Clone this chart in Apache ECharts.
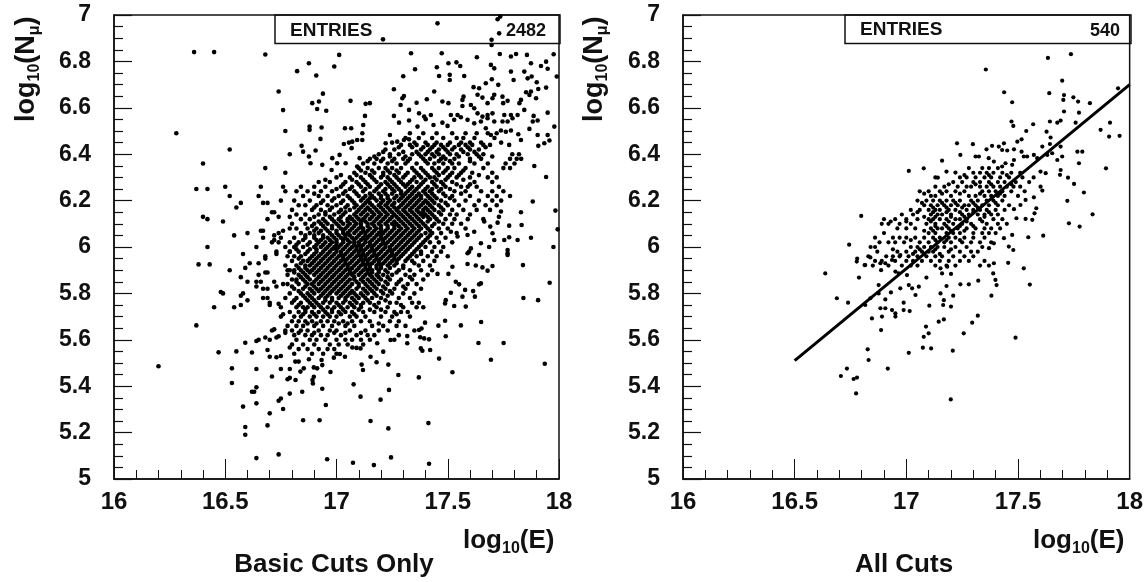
<!DOCTYPE html>
<html><head><meta charset="utf-8">
<script src="https://cdn.jsdelivr.net/npm/echarts@6/dist/echarts.min.js"></script>
<style>html,body{margin:0;padding:0;background:#fff}#c{width:1146px;height:582px}</style></head>
<body><div id="c"></div>
<script>
const xTickLabels=['16','16.5','17','17.5','18'];
const entriesBasic='2482', entriesAll='540';
const fitLine=[[16.5,5.51],[18,6.70]];
const basicScattered=[[16.36,6.84],[16.45,6.84],[16.68,6.83],[16.74,6.67],[16.76,6.59],[16.77,6.5],[16.28,6.49],[16.52,6.42],[16.79,6.4],[16.4,6.36],[16.68,6.34],[16.77,6.32],[16.37,6.25],[16.42,6.25],[16.5,6.26],[16.52,6.22],[16.66,6.26],[16.65,6.22],[16.67,6.19],[16.69,6.19],[16.76,6.26],[16.77,6.24],[16.75,6.2],[16.57,6.19],[16.55,6.17],[16.4,6.13],[16.42,6.12],[16.49,6.11],[16.71,6.15],[16.72,6.15],[16.69,6.12],[16.74,6.13],[16.79,6.13],[16.6,6.06],[16.54,6.05],[16.66,6.07],[16.67,6.07],[16.74,6.06],[16.76,6.07],[16.79,6.08],[16.72,6.05],[16.67,6.04],[16.75,6.04],[16.71,6.02],[16.72,6.03],[16.74,6.02],[16.64,6],[16.42,6],[16.73,5.98],[16.58,5.97],[16.68,5.96],[16.79,5.98],
[16.38,5.925],[16.43,5.925],[16.52,5.9],[16.59,5.91],[16.61,5.93],[16.65,5.93],[16.68,5.95],[16.73,5.97],[16.65,5.88],[16.68,5.89],[16.69,5.89],[16.57,5.87],[16.6,5.85],[16.64,5.85],[16.66,5.85],[16.72,5.85],[16.73,5.83],[16.76,5.84],[16.78,5.9],[16.48,5.806],[16.49,5.8],[16.58,5.8],[16.57,5.79],[16.64,5.83],[16.67,5.82],[16.69,5.82],[16.67,5.78],[16.69,5.78],[16.7,5.76],[16.7,5.75],[16.6,5.77],[16.57,5.75],[16.54,5.74],[16.45,5.74],[16.74,5.755],[16.75,5.74],[16.75,5.7],[16.76,5.71],[16.78,5.66],[16.37,5.662],[16.72,5.645],[16.71,5.64],[16.77,5.64],[16.77,5.63],[16.73,5.61],[16.74,5.615],[16.68,5.61],[16.7,5.6],[16.64,5.595],[16.65,5.6],[16.59,5.587],[16.79,5.567],[16.47,5.546],[16.55,5.55],[16.62,5.545],[16.69,5.556],[16.7,5.527],[16.73,5.525],[16.75,5.53],[16.53,5.477],[16.64,5.474],[16.75,5.474],[16.79,5.474],[16.2,5.486],[16.71,5.442],[16.78,5.43],[16.79,5.436],[16.53,5.414],[16.62,5.376],[16.63,5.376],[16.64,5.395],[16.79,5.368],[16.74,5.337],[16.75,5.347],[16.58,5.312],[16.64,5.326],[16.76,5.302],[16.7,5.283],[16.59,5.224],[16.59,5.191],[16.69,5.231],[16.64,5.09],[16.74,5.106],
[16.958,5.085],[17.074,5.07],[17.168,5.06],[17.245,5.093],[17.416,5.066],[16.85,5.253],[16.924,5.253],[17.153,5.25],[17.233,5.218],[17.413,5.241],[16.952,5.319],[16.846,5.376],[16.936,5.389],[17.108,5.355],[17.198,5.342],[17.236,5.384],[17.077,5.408],[16.894,5.412],[16.892,5.427],[16.898,5.441],[16.816,5.427],[17.278,5.448],[17.37,5.438],[17.521,5.46],[17.936,5.497],[17.694,5.514],[17.461,5.519],[17.233,5.493],[17.119,5.47],[17.113,5.493],[17.18,5.503],[17.153,5.527],[16.973,5.461],[16.936,5.491],[16.913,5.477],[16.898,5.481],[16.853,5.477],[16.838,5.463],[16.876,5.516],[16.933,5.513],[16.815,5.506],[16.83,5.506],[17.21,5.549],[17.038,5.527],[17.015,5.539],[16.988,5.523],[17.071,5.567],[17.09,5.565],[17.108,5.563],[17.183,5.585],[17.379,5.563],[17.386,5.553],[17.421,5.556],[17.318,5.585],[17.318,5.616],[17.376,5.611],[17.394,5.606],[17.416,5.602],[17.243,5.599],[17.491,5.615],[17.638,5.586],[17.751,5.586],[17.559,5.662],[17.65,5.677],[17.488,5.682],[17.458,5.661],[17.398,5.674],[17.371,5.642],[17.382,5.649],[17.84,5.78],[17.906,5.771],[17.958,5.846],[17.838,5.922],[17.641,5.839],[17.649,5.843],[17.614,5.81],[17.622,5.786],[17.578,5.815],[17.566,5.786],[17.514,5.803],[17.491,5.771],[17.488,5.757],[17.529,5.746],[17.581,5.743],[17.536,5.85],[17.551,5.839],[17.454,5.884],[17.503,5.884],[17.521,5.915],[17.589,5.927],[17.626,5.92],[17.656,5.912],[17.679,5.898],[17.701,5.918],[17.596,5.98],[17.641,5.965],[17.769,5.973],
[17.454,6.964],[17.736,6.993],[17.724,6.982],[17.731,6.921],[17.209,6.895],[17.697,6.893],[17.697,6.871],[17.012,6.828],[17.335,6.835],[17.473,6.835],[17.631,6.818],[17.734,6.832],[17.784,6.821],[17.807,6.832],[17.856,6.828],[17.976,6.831],[16.876,6.792],[16.99,6.778],[16.823,6.758],[16.909,6.739],[17.353,6.766],[17.3,6.736],[17.451,6.775],[17.503,6.792],[17.539,6.796],[17.556,6.78],[17.461,6.737],[17.509,6.742],[17.509,6.72],[17.574,6.737],[17.694,6.785],[17.709,6.77],[17.698,6.723],[17.671,6.706],[17.784,6.756],[17.796,6.72],[17.844,6.756],[17.859,6.727],[17.877,6.735],[17.874,6.792],[17.919,6.78],[17.942,6.799],[17.949,6.768],[17.99,6.735],[17.9,6.71],[17.727,6.699],[17.258,6.68],[17.439,6.67],[17.616,6.689],[17.641,6.684],[17.634,6.656],[17.942,6.687],[17.907,6.681],[17.874,6.67],[17.852,6.667],[16.939,6.661],[17.303,6.651],[17.296,6.641],[17.571,6.648],[17.566,6.634],[17.656,6.644],[17.679,6.62],[17.709,6.656],[17.701,6.641],[17.746,6.648],[17.769,6.63],[17.749,6.62],[17.829,6.634],[17.822,6.62],[17.867,6.655],[17.897,6.641],[17.063,6.63],[17.131,6.617],[17.15,6.62],[16.891,6.62],[16.921,6.627],[16.913,6.595],[16.954,6.587],[17.288,6.612],[17.36,6.622],[17.406,6.637],[17.476,6.627],[17.503,6.62],[17.326,6.591],[17.566,6.608],[17.604,6.612],[17.619,6.598],[17.634,6.576],[17.656,6.562],[17.679,6.569],[17.701,6.576],[17.844,6.591],[17.949,6.579],[17.886,6.565],[17.904,6.545],[17.882,6.541],[17.867,6.509],[17.979,6.519],[17.128,6.565],[17.258,6.565],[17.281,6.536],[17.326,6.545],[17.364,6.519],[17.371,6.576],[17.394,6.562],[17.424,6.569],[17.401,6.551],[17.436,6.526],[17.476,6.536],[17.499,6.522],[17.529,6.548],[17.559,6.559],[17.589,6.548],[17.514,6.569],[17.544,6.569],[17.619,6.533],[17.649,6.541],[17.679,6.555],[17.754,6.569],[17.784,6.569],[17.769,6.541],[17.791,6.555],[17.814,6.569],[17.709,6.541],[17.746,6.541],[17.739,6.502],[17.761,6.497],[17.784,6.502],[17.671,6.512],[17.694,6.483],[16.879,6.519],[16.879,6.505],[16.933,6.515],[17.038,6.512],[17.066,6.512],[17.12,6.526],[17.116,6.49],[16.928,6.466],[17.24,6.483],[17.071,6.454],[17.093,6.461],[17.116,6.461],[17.033,6.444],[17.056,6.45],[17.068,6.426],[17.904,6.483],[17.949,6.483],[17.817,6.486],[17.829,6.461],[17.907,6.436],[17.934,6.447],[17.957,6.459],[17.776,6.44],[17.273,6.454],[17.303,6.461],[17.326,6.464],[17.221,6.447],[16.843,6.436],[16.85,6.411],[16.906,6.416],[16.876,6.39],[16.883,6.361],[17.014,6.397],[16.981,6.383],[17.003,6.361],[17.104,6.383],[16.936,6.354],[16.978,6.332],[17.041,6.361],[17.093,6.347],[17.889,6.349],[17.942,6.302],[17.882,6.196],[17.829,6.15],[17.984,6.157],[17.739,6.153],[17.73,6.13],[17.994,6.076],[17.832,6.095],[17.776,6.092],[17.724,6.105],[17.691,6.088],[17.664,6.11],[17.619,6.066],[17.589,6.052],[17.544,6.045],[17.514,6.066],[17.701,6.059],[17.754,6.03],[17.776,6.042],[17.709,6.03],[17.814,6.03],[17.874,6.04],[17.975,6],[17.769,5.987],[17.769,5.966],[17.686,6],[17.649,6.016],[17.604,5.994],[17.589,5.973]];
const basicDenseY=[6.44,6.42,6.40,6.38,6.36,6.34,6.32,6.30,6.28,6.26,6.24,6.22,6.20,6.18,6.16,6.14,6.12,6.10,6.08,6.06,6.04,6.02,6.00,5.98,5.96,5.94,5.92,5.90,5.88,5.86,5.84,5.82,5.80,5.78,5.76,5.74,5.72,5.70,5.68,5.66,5.64,5.62,5.60,5.58,5.56,5.54];
const basicDenseX=[
[17.29,17.33,17.36,17.41,17.44,17.47,17.50,17.55,17.58,17.61,17.66,17.69],
[17.22,17.26,17.38,17.42,17.46,17.49,17.52,17.56,17.60,17.64],
[17.19,17.24,17.28,17.34,17.37,17.40,17.43,17.46,17.51,17.54,17.59,17.63,17.66,17.79,17.82],
[17.15,17.18,17.21,17.26,17.30,17.33,17.39,17.42,17.47,17.49,17.53,17.60,17.65,17.78,17.81,17.83],
[17.12,17.17,17.23,17.27,17.31,17.36,17.41,17.44,17.48,17.52,17.55,17.62,17.68,17.76,17.80],
[17.10,17.14,17.19,17.22,17.25,17.29,17.34,17.38,17.43,17.46,17.50,17.53,17.58,17.66,17.75,17.78],
[17.08,17.13,17.17,17.21,17.24,17.28,17.32,17.36,17.40,17.45,17.48,17.52,17.56,17.61,17.70],
[17.00,17.06,17.11,17.16,17.20,17.23,17.27,17.30,17.35,17.38,17.42,17.44,17.50,17.54,17.60,17.68,17.72],
[16.92,16.97,17.04,17.09,17.13,17.18,17.22,17.25,17.29,17.33,17.36,17.39,17.43,17.47,17.52,17.62,17.70],
[16.84,16.90,16.95,17.02,17.07,17.11,17.15,17.19,17.24,17.27,17.31,17.34,17.37,17.41,17.45,17.49,17.56,17.59,17.63,17.73],
[16.82,16.87,16.93,16.98,17.04,17.08,17.12,17.17,17.21,17.26,17.29,17.32,17.35,17.39,17.42,17.46,17.53,17.58,17.65,17.70,17.75],
[16.85,16.92,16.96,17.01,17.05,17.10,17.13,17.16,17.20,17.23,17.27,17.30,17.33,17.36,17.38,17.41,17.44,17.49,17.52,17.60,17.68,17.72,17.78],
[16.81,16.88,16.94,16.98,17.03,17.07,17.11,17.14,17.18,17.21,17.24,17.28,17.31,17.34,17.37,17.40,17.43,17.47,17.53,17.58,17.64,17.70,17.74],
[16.83,16.86,16.91,16.96,17.00,17.05,17.09,17.12,17.16,17.19,17.22,17.25,17.29,17.32,17.35,17.38,17.42,17.46,17.50,17.55,17.62,17.67,17.72],
[16.80,16.89,16.93,16.97,17.02,17.06,17.10,17.13,17.15,17.18,17.21,17.24,17.27,17.30,17.33,17.36,17.39,17.41,17.44,17.48,17.52,17.57,17.63,17.69],
[16.82,16.86,16.92,16.95,16.99,17.03,17.08,17.11,17.14,17.17,17.20,17.23,17.26,17.29,17.32,17.35,17.38,17.40,17.43,17.47,17.51,17.54,17.60],
[16.84,16.88,16.94,16.98,17.01,17.05,17.07,17.10,17.12,17.15,17.18,17.21,17.24,17.28,17.31,17.34,17.37,17.42,17.45,17.49,17.53,17.59,17.66],
[16.80,16.86,16.90,16.93,16.96,17.00,17.03,17.06,17.09,17.11,17.14,17.16,17.19,17.22,17.25,17.27,17.30,17.33,17.36,17.39,17.44,17.48,17.52,17.56],
[16.82,16.87,16.91,16.95,16.98,17.02,17.04,17.07,17.10,17.12,17.15,17.18,17.20,17.23,17.26,17.29,17.32,17.35,17.38,17.41,17.46,17.50,17.58],
[16.84,16.88,16.92,16.97,17.00,17.03,17.05,17.08,17.11,17.13,17.16,17.19,17.21,17.24,17.27,17.30,17.33,17.36,17.40,17.43,17.47,17.54],
[16.81,16.86,16.90,16.94,16.96,16.99,17.02,17.04,17.07,17.09,17.12,17.14,17.17,17.20,17.22,17.25,17.28,17.31,17.34,17.37,17.41,17.45,17.49],
[16.79,16.83,16.88,16.92,16.95,16.98,17.00,17.03,17.06,17.08,17.10,17.13,17.15,17.18,17.21,17.23,17.26,17.29,17.32,17.35,17.39,17.42,17.46,17.52],
[16.77,16.81,16.85,16.90,16.93,16.96,16.99,17.01,17.04,17.07,17.09,17.11,17.14,17.16,17.19,17.22,17.24,17.27,17.30,17.33,17.37,17.40,17.44,17.48],
[16.79,16.83,16.87,16.91,16.94,16.97,17.00,17.02,17.05,17.08,17.10,17.12,17.15,17.17,17.20,17.23,17.25,17.28,17.31,17.35,17.38,17.43,17.47],
[16.78,16.81,16.84,16.89,16.92,16.95,16.98,17.01,17.03,17.06,17.09,17.11,17.13,17.16,17.18,17.21,17.24,17.26,17.29,17.33,17.36,17.41,17.45,17.50],
[16.80,16.85,16.87,16.90,16.93,16.96,16.99,17.02,17.04,17.07,17.10,17.12,17.14,17.17,17.19,17.22,17.25,17.27,17.31,17.34,17.39,17.44],
[16.77,16.82,16.86,16.88,16.91,16.94,16.97,17.00,17.03,17.05,17.08,17.11,17.13,17.15,17.18,17.20,17.23,17.26,17.30,17.37,17.42],
[16.79,16.81,16.84,16.87,16.89,16.92,16.95,16.98,17.01,17.04,17.06,17.09,17.12,17.14,17.16,17.19,17.22,17.28,17.33,17.38,17.43],
[16.78,16.83,16.86,16.90,16.93,16.96,16.99,17.02,17.05,17.07,17.10,17.13,17.15,17.18,17.21,17.25,17.31,17.35,17.41],
[16.80,16.82,16.85,16.88,16.91,16.94,16.97,17.00,17.03,17.06,17.08,17.11,17.14,17.17,17.20,17.24,17.29,17.34,17.39],
[16.78,16.83,16.87,16.89,16.92,16.95,16.98,17.01,17.04,17.07,17.10,17.13,17.16,17.19,17.23,17.27,17.32,17.36],
[16.81,16.85,16.88,16.91,16.93,16.96,16.99,17.02,17.05,17.09,17.12,17.15,17.18,17.22,17.26,17.31,17.38],
[16.79,16.84,16.87,16.90,16.94,16.97,17.00,17.03,17.06,17.08,17.11,17.14,17.17,17.21,17.25,17.30,17.35],
[16.77,16.82,16.86,16.89,16.92,16.95,16.98,17.01,17.04,17.07,17.10,17.13,17.16,17.20,17.28,17.33],
[16.80,16.84,16.88,16.91,16.94,16.97,17.00,17.03,17.06,17.09,17.12,17.15,17.19,17.24,17.27,17.34,17.37],
[16.82,16.85,16.87,16.90,16.93,16.96,16.99,17.02,17.05,17.08,17.11,17.18,17.23,17.30,17.36,17.39],
[16.79,16.83,16.86,16.89,16.92,16.95,16.98,17.01,17.04,17.07,17.12,17.17,17.22,17.26,17.29,17.32],
[16.81,16.84,16.88,16.91,16.94,16.97,17.00,17.06,17.09,17.13,17.20,17.25,17.33],
[16.80,16.83,16.86,16.89,16.93,16.96,16.99,17.03,17.07,17.11,17.15,17.24,17.28],
[16.82,16.85,16.90,16.94,16.98,17.04,17.08,17.16,17.21,17.27,17.31],
[16.80,16.84,16.87,16.92,16.97,17.00,17.06,17.13,17.19,17.23,17.35],
[16.81,16.86,16.89,16.93,16.96,17.02,17.09,17.14,17.17,17.28],
[16.82,16.88,16.91,16.95,17.00,17.04,17.07,17.11,17.15,17.26],
[16.80,16.85,16.90,16.97,17.01,17.05,17.12],
[16.83,16.87,16.92,16.96,16.99],
[16.81,16.89,16.94,17.00]];
const basicFillY=[6.49,6.47,6.45,6.43,6.41,6.39,6.37,6.33,6.31,6.29,6.27,6.25,6.23,6.21,6.19,6.17,6.15,6.13,6.11,6.09,6.07,6.05,6.03,6.01,5.99,5.97,5.95,5.93,5.91,5.89,5.87,5.85,5.83,5.81,5.79,5.77,5.75,5.73,5.71,5.67,5.63];
const basicFillX=[
[17.33,17.39,17.45,17.52,17.58,17.63,17.68,17.72],
[17.31,17.37,17.43,17.48,17.54,17.57,17.62,17.71],
[17.25,17.35,17.40,17.45,17.51,17.56,17.60,17.65,17.74],
[17.28,17.34,17.39,17.43,17.48,17.53,17.59,17.67],
[17.21,17.30,17.36,17.41,17.45,17.50,17.57,17.62],
[17.17,17.24,17.31,17.38,17.44,17.48,17.55,17.64,17.70],
[17.14,17.20,17.25,17.32,17.40,17.46,17.51,17.60],
[17.11,17.16,17.23,17.27,17.35,17.39,17.44,17.49,17.57],
[17.02,17.09,17.15,17.21,17.26,17.31,17.37,17.41,17.46,17.51,17.55,17.64],
[16.95,17.07,17.12,17.17,17.24,17.28,17.34,17.40,17.45,17.49,17.57],
[17.03,17.10,17.14,17.20,17.23,17.26,17.30,17.32,17.38,17.44,17.48,17.54,17.60],
[17.00,17.06,17.13,17.18,17.22,17.25,17.28,17.33,17.36,17.40,17.43,17.47,17.51],
[16.90,17.03,17.09,17.15,17.19,17.22,17.25,17.29,17.31,17.34,17.37,17.40,17.43,17.48,17.56],
[16.99,17.06,17.12,17.15,17.17,17.20,17.23,17.26,17.29,17.32,17.35,17.38,17.42,17.45,17.51],
[16.93,17.02,17.08,17.13,17.15,17.20,17.23,17.26,17.30,17.33,17.36,17.39,17.41,17.44,17.49],
[16.90,16.98,17.04,17.08,17.11,17.14,17.17,17.20,17.23,17.26,17.28,17.31,17.34,17.37,17.40,17.43,17.47],
[16.95,17.01,17.04,17.09,17.12,17.16,17.19,17.22,17.25,17.28,17.31,17.34,17.37,17.39,17.42,17.46],
[16.90,16.97,17.02,17.06,17.09,17.13,17.16,17.19,17.22,17.25,17.27,17.30,17.33,17.36,17.39,17.41,17.44],
[16.92,16.95,16.99,17.02,17.05,17.08,17.11,17.13,17.17,17.20,17.23,17.26,17.29,17.32,17.35,17.38,17.41,17.46],
[16.89,16.94,16.98,17.01,17.05,17.08,17.11,17.14,17.17,17.20,17.23,17.26,17.28,17.31,17.34,17.37,17.40,17.43],
[16.90,16.93,16.96,17.00,17.03,17.06,17.09,17.12,17.14,17.17,17.20,17.22,17.25,17.28,17.31,17.34,17.37,17.42],
[16.86,16.90,16.94,16.98,17.01,17.04,17.06,17.10,17.13,17.15,17.18,17.20,17.23,17.26,17.29,17.32,17.35,17.38,17.42],
[16.85,16.91,16.93,16.97,17.00,17.03,17.05,17.08,17.11,17.13,17.16,17.19,17.21,17.24,17.27,17.30,17.33,17.36,17.40],
[16.82,16.87,16.91,16.94,16.97,17.00,17.02,17.05,17.08,17.10,17.12,17.15,17.17,17.20,17.22,17.25,17.28,17.31,17.34,17.38],
[16.82,16.88,16.91,16.95,16.98,17.00,17.03,17.06,17.09,17.11,17.13,17.16,17.18,17.21,17.24,17.26,17.29,17.32,17.36],
[16.86,16.90,16.93,16.96,16.99,17.02,17.04,17.07,17.10,17.12,17.14,17.17,17.19,17.22,17.25,17.27,17.30,17.34,17.38],
[16.83,16.88,16.91,16.94,16.97,17.00,17.03,17.05,17.08,17.11,17.13,17.15,17.18,17.20,17.23,17.26,17.28,17.32],
[16.84,16.89,16.92,16.95,16.98,17.01,17.04,17.06,17.09,17.12,17.14,17.16,17.19,17.21,17.24,17.27,17.35],
[16.83,16.86,16.90,16.93,16.96,16.99,17.02,17.05,17.07,17.10,17.13,17.15,17.18,17.20,17.24,17.30],
[16.81,16.85,16.88,16.91,16.94,16.97,17.00,17.03,17.06,17.08,17.11,17.14,17.16,17.19,17.23,17.27],
[16.84,16.87,16.92,16.95,16.98,17.01,17.04,17.08,17.12,17.16,17.19,17.23,17.33],
[16.82,16.86,16.90,16.93,16.96,16.99,17.02,17.05,17.09,17.12,17.15,17.18,17.22,17.28],
[16.80,16.86,16.90,16.94,16.97,17.00,17.03,17.06,17.10,17.14,17.17,17.21,17.30],
[16.83,16.89,16.92,16.95,16.98,17.01,17.04,17.07,17.13,17.16,17.20,17.24],
[16.85,16.88,16.93,16.96,17.02,17.05,17.09,17.12,17.18,17.23],
[16.81,16.87,16.90,16.95,16.98,17.04,17.08,17.14,17.22],
[16.83,16.89,16.92,17.01,17.07,17.11,17.17,17.29],
[16.86,16.94,16.98,17.03,17.10,17.15,17.20],
[16.85,16.90,16.96,17.02,17.08,17.27],
[16.87,16.91,17.01,17.05,17.19],
[16.83,16.90,16.99,17.04,17.11]];
const allScattered=[[17.737,6.831],[17.634,6.815],[17.356,6.765],[17.698,6.717],[17.948,6.684],[17.64,6.663],[17.438,6.667],[17.706,6.655],[17.703,6.634],[17.748,6.645],[17.769,6.627],[17.822,6.62],[17.474,6.624],[17.706,6.584],[17.773,6.579],[17.471,6.541],[17.479,6.522],[17.568,6.529],[17.537,6.5],[17.643,6.541],[17.676,6.536],[17.691,6.545],[17.758,6.536],[17.628,6.497],[17.912,6.536],[17.87,6.505],[17.908,6.476],[17.955,6.479],[17.646,6.472],[17.516,6.464],[17.497,6.454],[17.227,6.447],[17.298,6.443],[17.414,6.433],[17.437,6.447],[17.429,6.418],[17.452,6.416],[17.384,6.436],[17.359,6.421],[17.482,6.421],[17.609,6.433],[17.643,6.444],[17.691,6.433],[17.242,6.397],[17.31,6.39],[17.325,6.39],[17.16,6.372],[17.369,6.383],[17.392,6.368],[17.516,6.411],[17.526,6.39],[17.541,6.39],[17.571,6.397],[17.586,6.383],[17.482,6.375],[17.444,6.361],[17.429,6.347],[17.474,6.354],[17.631,6.397],[17.653,6.404],[17.676,6.375],[17.698,6.39],[17.766,6.411],[17.788,6.411],[17.773,6.361],[17.894,6.339],[17.011,6.328],[17.078,6.339],[17.18,6.325],[17.22,6.321],[17.141,6.299],[17.601,6.325],[17.624,6.318],[17.691,6.332],[17.688,6.311],[17.724,6.299],[17.751,6.272],[17.795,6.235],[17.721,6.199],[17.834,6.141],[17.728,6.102],[17.776,6.088],[17.601,6.26],[17.609,6.243],[17.571,6.214],[17.534,6.203],[17.511,6.181],[17.482,6.163],[17.582,6.167],[17.574,6.145],[17.564,6.117],[17.534,6.121],[17.493,6.124],[17.613,6.049],[17.546,6.042],[17.474,6.052],[17.437,6.038],[17.459,6.002],[17.479,5.987],[17.392,6.016],[17.37,5.995],[16.798,6.134],[16.744,6.01],[16.78,5.95],
[16.637,5.886],[16.778,5.937],[16.813,5.922],[16.788,5.868],[16.689,5.779],[16.739,5.76],[16.734,5.476],[16.707,5.444],[16.764,5.431],[16.779,5.437],[16.775,5.369],[17.199,5.343],[17.489,5.609],[16.917,5.476],[17.011,5.544],[17.074,5.566],[17.111,5.563],[17.208,5.553],[16.827,5.559],[16.831,5.513],[16.887,5.642],[17.078,5.613],[17.1,5.628],[17.088,5.657],[17.257,5.628],[17.295,5.674],[17.32,5.704],[17.145,5.678],[17.168,5.688],[16.846,5.692],[16.891,5.7],[17.553,5.838],[17.381,5.79],[17.399,5.858],[17.404,5.836],[17.389,5.886],[17.322,5.855],[17.242,5.839],[17.28,5.839],[17.526,5.908],[17.456,5.932],[17.392,5.93],[17.153,5.8],[17.21,5.79],[17.18,5.832],[17.168,5.771],[17.165,5.75],[17.2,5.743],[17.103,5.747],[16.884,5.736],[16.906,5.736],[16.936,5.728],[16.951,5.714],[16.951,5.7],[16.988,5.76],[16.988,5.728],[17.015,5.724],[17.026,5.822],[17.041,5.793],[17.056,5.829],[16.973,5.822],[16.931,5.804],[17.09,5.868],[17.011,5.836],[16.906,5.774],[16.876,5.8],[16.876,5.836],[16.839,5.779],[16.816,5.75],[16.816,5.922],[16.884,5.93],[16.906,5.93],[16.887,5.9],[16.839,5.955],[16.936,5.944],[16.973,5.965],[16.966,5.886],[16.951,5.894],[17.003,5.879],[17.153,5.908],[17.183,5.915],[17.16,5.886],[17.2,5.884]];
const allDenseY=[6.34,6.32,6.30,6.28,6.26,6.24,6.22,6.20,6.18,6.16,6.14,6.12,6.10,6.08,6.06,6.04,6.02,6.00,5.98,5.96,5.94,5.92];
const allDenseX=[
[17.28,17.34,17.37,17.41],
[17.30,17.33,17.36,17.39,17.43,17.47,17.51],
[17.13,17.24,17.27,17.31,17.35,17.38,17.42,17.46,17.52,17.57],
[17.21,17.25,17.30,17.33,17.37,17.41,17.44,17.49,17.55],
[17.13,17.17,17.23,17.27,17.29,17.33,17.36,17.39,17.42,17.45,17.48,17.51],
[17.06,17.10,17.15,17.18,17.22,17.26,17.34,17.37,17.40,17.43,17.47,17.53],
[17.11,17.13,17.20,17.28,17.31,17.35,17.38,17.41,17.44,17.50],
[17.05,17.09,17.12,17.15,17.18,17.21,17.24,17.29,17.32,17.36,17.39,17.43],
[17.08,17.11,17.14,17.17,17.20,17.23,17.26,17.28,17.31,17.34,17.37,17.41,17.46],
[17.02,17.06,17.10,17.13,17.15,17.19,17.22,17.27,17.30,17.33,17.36,17.40,17.44],
[16.98,17.03,17.11,17.14,17.16,17.20,17.25,17.28,17.32,17.35,17.38,17.41],
[16.90,16.95,17.00,17.05,17.10,17.12,17.15,17.18,17.22,17.24,17.27,17.33,17.39,17.43],
[16.89,16.92,16.97,17.02,17.09,17.13,17.17,17.21,17.25,17.29,17.36,17.41,17.45],
[16.96,17.00,17.04,17.11,17.14,17.16,17.19,17.23,17.27,17.31,17.35,17.38,17.42],
[16.90,17.10,17.13,17.18,17.21,17.24,17.30,17.34,17.37,17.40],
[16.86,16.94,16.97,17.00,17.04,17.08,17.12,17.15,17.19,17.22,17.26,17.30,17.35],
[16.88,16.92,16.95,16.99,17.06,17.10,17.14,17.17,17.20,17.25,17.29,17.33,17.38],
[16.84,16.86,17.02,17.05,17.08,17.11,17.14,17.17,17.22,17.27,17.34],
[16.87,16.96,17.00,17.04,17.07,17.10,17.12,17.19,17.24,17.29,17.32],
[16.83,16.91,16.94,16.97,17.01,17.05,17.09,17.13,17.16,17.21,17.26,17.30],
[16.86,16.89,16.95,17.00,17.03,17.07,17.11,17.15,17.19,17.24,17.28,17.35],
[16.85,16.92,16.98,17.02,17.05,17.13,17.18,17.22,17.33,17.37]];
const allFillY=[6.31,6.27,6.23,6.19,6.17,6.15,6.13,6.11,6.09,6.07,6.03,5.99,5.97];
const allFillX=[
[17.26,17.37,17.45],
[17.19,17.31,17.38,17.47],
[17.08,17.16,17.24,17.33,17.42],
[17.07,17.16,17.22,17.30,17.40],
[17.12,17.18,17.25,17.32],
[17.05,17.12,17.18,17.24,17.30,17.37],
[17.08,17.13,17.20,17.26,17.35],
[16.93,17.00,17.11,17.19,17.27,17.34],
[17.13,17.18,17.24,17.30],
[17.08,17.12,17.20,17.26],
[17.02,17.13,17.18,17.24],
[16.94,17.06,17.13,17.20],
[17.03,17.08,17.15]];

function rowsToPoints(ys,xs){const out=[];ys.forEach((y,i)=>xs[i].forEach(x=>out.push([x,y])));return out;}
const FONT='"Liberation Sans",Arial,sans-serif';
function xA(gi){return {type:'value',gridIndex:gi,min:16,max:18,interval:0.5,
 axisLine:{show:true,onZero:false,lineStyle:{color:'#111',width:1.5}},
 axisTick:{show:true,inside:true,length:20,lineStyle:{color:'#111',width:1}},
 minorTick:{show:true,splitNumber:5,length:9,lineStyle:{color:'#111',width:1}},
 splitLine:{show:false},minorSplitLine:{show:false},
 axisLabel:{margin:11,color:'#111',fontFamily:FONT,fontWeight:'bold',fontSize:24,hideOverlap:false,showMinLabel:true,showMaxLabel:true,
 formatter:v=>xTickLabels[Math.round((v-16)/0.5)]}};}
function yA(gi){return {type:'value',gridIndex:gi,min:5,max:7,interval:0.2,
 axisLine:{show:true,onZero:false,lineStyle:{color:'#111',width:1.5}},
 axisTick:{show:true,inside:true,length:18,lineStyle:{color:'#111',width:1.2}},
 minorTick:{show:true,splitNumber:4,length:9,lineStyle:{color:'#111',width:1.2}},
 splitLine:{show:false},minorSplitLine:{show:false},
 axisLabel:{margin:23,color:'#111',fontFamily:FONT,fontWeight:'bold',fontSize:23,hideOverlap:false,showMinLabel:true,showMaxLabel:true,
 formatter:v=>String(Math.round(v*10)/10)}};}
const richY={b:{fontFamily:FONT,fontWeight:'bold',fontSize:27,fill:'#111',lineHeight:32},s:{fontFamily:FONT,fontWeight:'bold',fontSize:16,fill:'#111',verticalAlign:'bottom',lineHeight:26}};
const richX={b:{fontFamily:FONT,fontWeight:'bold',fontSize:26,fill:'#111',lineHeight:32},s:{fontFamily:FONT,fontWeight:'bold',fontSize:16,fill:'#111',verticalAlign:'bottom',lineHeight:26}};
function tx(x,y,text,size,align){return {type:'text',x,y,z:20,style:{text,fontFamily:FONT,fontWeight:'bold',fontSize:size,fill:'#111',align:align||'left',verticalAlign:'middle'}};}
function box(x,y,w,h){return {type:'rect',x,y,z:5,shape:{width:w,height:h},style:{fill:'none',stroke:'#111',lineWidth:1.5}};}
function rot(x,y){return {type:'text',x,y,rotation:Math.PI/2,z:20,style:{text:'{b|log}{s|10}{b|(N}{s|μ}{b|)}',rich:richY,align:'left',verticalAlign:'middle'}};}
function logE(x,y){return {type:'text',x,y,z:20,style:{text:'{b|log}{s|10}{b|(E)}',rich:richX,align:'left',verticalAlign:'middle'}};}
const chart=echarts.init(document.getElementById('c'),null,{renderer:'canvas'});
chart.setOption({animation:false,backgroundColor:'#fff',
 grid:[{left:114,top:15,width:445,height:464,show:true,borderColor:'#111',borderWidth:1.5,backgroundColor:'transparent'},
       {left:683,top:15,width:447,height:464,show:true,borderColor:'#111',borderWidth:1.5,backgroundColor:'transparent'}],
 xAxis:[xA(0),xA(1)],yAxis:[yA(0),yA(1)],
 series:[
  {type:'scatter',xAxisIndex:0,yAxisIndex:0,symbolSize:4.6,itemStyle:{color:'#000',opacity:1},silent:true,z:10,data:basicScattered.concat(rowsToPoints(basicDenseY,basicDenseX),rowsToPoints(basicFillY,basicFillX))},
  {type:'scatter',xAxisIndex:1,yAxisIndex:1,symbolSize:4.2,itemStyle:{color:'#000',opacity:1},silent:true,z:10,data:allScattered.concat(rowsToPoints(allDenseY,allDenseX),rowsToPoints(allFillY,allFillX))},
  {type:'line',xAxisIndex:1,yAxisIndex:1,data:fitLine,showSymbol:false,symbol:'none',lineStyle:{color:'#000',width:3},silent:true,z:11}
 ],
 graphic:[
  box(275,15,285,28.5),box(845,15,286,28.5),
  tx(290,31,'ENTRIES',19),tx(546,31,entriesBasic,18,'right'),
  tx(860,30,'ENTRIES',19),tx(1120,31,entriesAll,18,'right'),
  rot(27,122),rot(595,122),
  logE(463,541),logE(1033,541),
  tx(334,565,'Basic Cuts Only',26,'center'),tx(904,565,'All Cuts',26,'center')
 ]});
</script></body></html>
